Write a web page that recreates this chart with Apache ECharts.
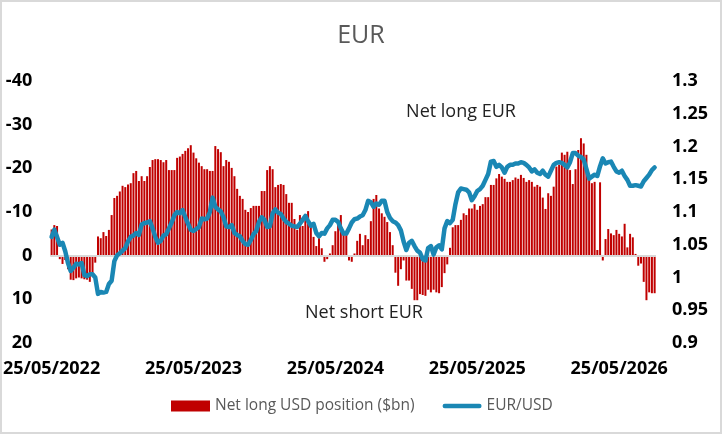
<!DOCTYPE html>
<html>
<head>
<meta charset="utf-8">
<script src="https://cdn.jsdelivr.net/npm/echarts@6/dist/echarts.min.js"></script>
<style>
  html, body { margin: 0; padding: 0; background: #fff; }
  #chart { position: absolute; left: 0; top: 0; width: 722px; height: 434px; }
  #frame { position: absolute; left: 0; top: 0; width: 722px; height: 434px; box-sizing: border-box; border: 2px solid #D9D9D9; pointer-events: none; }
</style>
</head>
<body>
<div id="chart"></div>
<div id="frame"></div>
<script>
// ---- data ----
const startDate = '2022-05-25';
const tickLabels = ['25/05/2022', '25/05/2023', '25/05/2024', '25/05/2025', '25/05/2026'];
const tickEvery = 52;

// Net long USD position ($bn), weekly
const netLongUSD = [
  -6, -7, -6.8, 0.8, 1.9, 1, 3.1, 5.5, 5.6, 5.2,
  5.0, 5.2, 5.4, 5.5, 6.0, 4.2, 1.6, -4.4, -4.0, -5.4,
  -4.5, -5.9, -9.3, -13.2, -13.7, -14.7, -16.0, -15.7, -16.3, -16.6,
  -18.9, -19.4, -17.1, -18.2, -17.1, -18.2, -20.3, -21.9, -22.1, -22.1,
  -21.9, -21.4, -21.9, -19.6, -19.6, -19.6, -22.4, -22.7, -23.3, -24.0,
  -24.6, -25.3, -23.6, -22.3, -21.3, -20.5, -19.8, -19.8, -19.4, -19.4,
  -25.1, -24.4, -23.7, -20.5, -21.9, -21.5, -20.1, -18.2, -15.3, -13.7,
  -13.0, -10.5, -10.0, -10.9, -11.4, -11.4, -11.4, -14.8, -14.8, -19.6,
  -20.5, -19.8, -15.7, -16.2, -16.4, -16.2, -14.1, -12.1, -12.1, -8.4,
  -5.9, -9.3, -6.8, -9.0, -10.2, -6.6, -4.3, -2.2, -4.0, -1.7,
  1.4, 0.8, -0.5, -2.4, -5.6, -7.4, -9.3, -5.1, -4.7, 1.1,
  1.4, -0.5, -3.4, -5.0, -2.4, -4.7, -3.8, -7.9, -13.0, -13.9,
  -10.8, -9.7, -8.9, -7.7, -5.4, -2.4, 3.9, 6.9, 3.1, 1.1,
  5.7, 5.7, 7.6, 10.2, 10.2, 8.8, 9.0, 9.2, 7.8, 8.4,
  7.8, 8.4, 8.6, 7.2, 4.0, 2.0, -1.8, -6.5, -7.0, -7.0,
  -8.2, -9.7, -9.3, -10.8, -10.8, -11.8, -10.5, -11.4, -11.8, -13.4,
  -13.4, -16.2, -16.2, -17.7, -18.7, -18.1, -17.6, -16.9, -16.9, -17.3,
  -17.9, -17.6, -18.5, -17.8, -16.9, -17.3, -16.9, -15.8, -16.2, -15.8,
  -13.3, -10.7, -14.3, -13.7, -15.8, -20.4, -20.8, -23.6, -23.1, -23.8,
  -19.6, -16.4, -19.8, -24.2, -26.9, -25.7, -23.1, -18.1, -16.6, -16.9,
  -1.3, -16.8, 1.1, -3.8, -6.1, -5.1, -4.7, -5.9, -5.0, -4.4,
  -7.3, -1.9, -5.0, -4.2, -0.4, 2.3, 1.8, 6.0, 10.2, 8.4,
  8.6, 8.6
];

// EUR/USD, weekly
const eurusd = [
  1.062, 1.073, 1.062, 1.050, 1.053, 1.040, 1.022, 1.010, 1.015, 1.021,
  1.020, 1.022, 1.004, 1.002, 1.005, 1.005, 1.000, 0.975, 0.978, 0.977,
  0.978, 0.990, 0.995, 1.025, 1.034, 1.037, 1.041, 1.045, 1.055, 1.062,
  1.064, 1.068, 1.065, 1.081, 1.083, 1.084, 1.086, 1.075, 1.062, 1.053,
  1.056, 1.064, 1.066, 1.075, 1.084, 1.095, 1.100, 1.098, 1.103, 1.092,
  1.082, 1.073, 1.071, 1.074, 1.077, 1.090, 1.089, 1.090, 1.100, 1.122,
  1.108, 1.104, 1.101, 1.092, 1.078, 1.077, 1.080, 1.068, 1.065, 1.063,
  1.056, 1.051, 1.050, 1.057, 1.066, 1.071, 1.085, 1.092, 1.088, 1.077,
  1.078, 1.098, 1.104, 1.099, 1.097, 1.090, 1.085, 1.082, 1.079, 1.078,
  1.077, 1.082, 1.088, 1.094, 1.086, 1.079, 1.082, 1.068, 1.063, 1.068,
  1.067, 1.075, 1.080, 1.088, 1.088, 1.085, 1.075, 1.067, 1.067, 1.075,
  1.084, 1.089, 1.090, 1.093, 1.095, 1.103, 1.117, 1.115, 1.108, 1.113,
  1.111, 1.117, 1.117, 1.100, 1.091, 1.086, 1.084, 1.080, 1.072, 1.055,
  1.042, 1.053, 1.056, 1.048, 1.041, 1.038, 1.028, 1.026, 1.045, 1.048,
  1.035, 1.046, 1.049, 1.043, 1.075, 1.086, 1.083, 1.088, 1.112, 1.130,
  1.136, 1.135, 1.134, 1.130, 1.118, 1.124, 1.132, 1.135, 1.140, 1.149,
  1.158, 1.177, 1.178, 1.169, 1.172, 1.168, 1.160, 1.169, 1.172, 1.172,
  1.174, 1.174, 1.176, 1.175, 1.172, 1.168, 1.162, 1.165, 1.160, 1.158,
  1.163, 1.157, 1.154, 1.163, 1.172, 1.175, 1.176, 1.175, 1.172, 1.168,
  1.176, 1.190, 1.190, 1.186, 1.184, 1.180, 1.166, 1.151, 1.154, 1.157,
  1.155, 1.170, 1.182, 1.174, 1.176, 1.177, 1.169, 1.162, 1.160, 1.163,
  1.155, 1.149, 1.140, 1.140, 1.141, 1.140, 1.139, 1.147, 1.152, 1.157,
  1.164, 1.168
];

// weekly category dates
const categories = [];
(function () {
  const d0 = new Date(startDate + 'T00:00:00Z');
  for (let i = 0; i < netLongUSD.length; i++) {
    const d = new Date(d0.getTime() + i * 7 * 86400000);
    const dd = String(d.getUTCDate()).padStart(2, '0');
    const mm = String(d.getUTCMonth() + 1).padStart(2, '0');
    categories.push(dd + '/' + mm + '/' + d.getUTCFullYear());
  }
})();

const FONT = '"Open Sans", "Noto Sans", sans-serif';
const LINE_COLOR = '#1A87B4';
const chart = echarts.init(document.getElementById('chart'), null, { renderer: 'canvas' });

chart.setOption({
  animation: false,
  backgroundColor: '#fff',
  title: {
    text: 'EUR',
    left: 'center',
    top: 18,
    textStyle: { fontFamily: FONT, fontSize: 25, fontWeight: 'normal', color: '#595959' }
  },
  legend: {
    left: 171,
    top: 398,
    padding: 0,
    itemWidth: 39,
    itemHeight: 11,
    itemGap: 28,
    textStyle: { fontFamily: FONT, fontSize: 15.5, color: '#595959' },
    data: [
      { name: 'Net long USD position ($bn)', icon: 'rect' },
      { name: 'EUR/USD',
        icon: 'path://M2.25,0 L37.75,0 A2.25,2.25 0 0 1 37.75,4.5 L2.25,4.5 A2.25,2.25 0 0 1 2.25,0 Z',
        itemStyle: { color: LINE_COLOR } }
    ]
  },
  grid: { left: 48.6, right: 66, top: 81, bottom: 91, containLabel: false },
  xAxis: {
    type: 'category',
    data: categories,
    boundaryGap: true,
    axisLine: { show: false },
    axisTick: { show: false },
    splitLine: { show: false },
    axisLabel: {
      interval: function (index) { return index % tickEvery === 0; },
      formatter: function (value, index) { return tickLabels[Math.round(index / tickEvery)] || ''; },
      fontFamily: FONT, fontSize: 18, fontWeight: 'bold', color: '#000',
      margin: 17, hideOverlap: false
    }
  },
  yAxis: [
    {
      type: 'value',
      inverse: true,
      min: -40, max: 20, interval: 10,
      axisLine: { show: false },
      axisTick: { show: false },
      splitLine: { show: false },
      axisLabel: { fontFamily: FONT, fontSize: 18, fontWeight: 'bold', color: '#000', margin: 18 }
    },
    {
      type: 'value',
      min: 0.9, max: 1.3, interval: 0.05,
      axisLine: { show: false },
      axisTick: { show: false },
      splitLine: { show: false },
      axisLabel: {
        fontFamily: FONT, fontSize: 18, fontWeight: 'bold', color: '#000', margin: 16,
        formatter: function (v) { return String(parseFloat(v.toFixed(2))); }
      }
    }
  ],
  graphic: [
    { type: 'text', x: 461, y: 112, silent: true,
      style: { text: 'Net long EUR', x: 0, y: 0, textAlign: 'center', textVerticalAlign: 'middle',
               font: '18px "Open Sans", "Noto Sans", sans-serif', fill: '#222' } },
    { type: 'text', x: 364, y: 313, silent: true,
      style: { text: 'Net short EUR', x: 0, y: 0, textAlign: 'center', textVerticalAlign: 'middle',
               font: '18px "Open Sans", "Noto Sans", sans-serif', fill: '#222' } }
  ],
  series: [
    {
      name: 'Net long USD position ($bn)',
      type: 'bar',
      yAxisIndex: 0,
      data: netLongUSD,
      barWidth: 2,
      itemStyle: { color: '#C00000' },
      markLine: {
        silent: true,
        symbol: ['none', 'none'],
        label: { show: false },
        lineStyle: { color: '#D9D9D9', width: 2, type: 'solid' },
        data: [{ yAxis: 0 }]
      }
    },
    {
      name: 'EUR/USD',
      type: 'line',
      yAxisIndex: 1,
      data: eurusd,
      symbol: 'none',
      smooth: false,
      z: 5,
      lineStyle: { color: LINE_COLOR, width: 4.5, cap: 'round', join: 'round' },
      itemStyle: { color: LINE_COLOR }
    }
  ]
});
</script>
</body>
</html>
